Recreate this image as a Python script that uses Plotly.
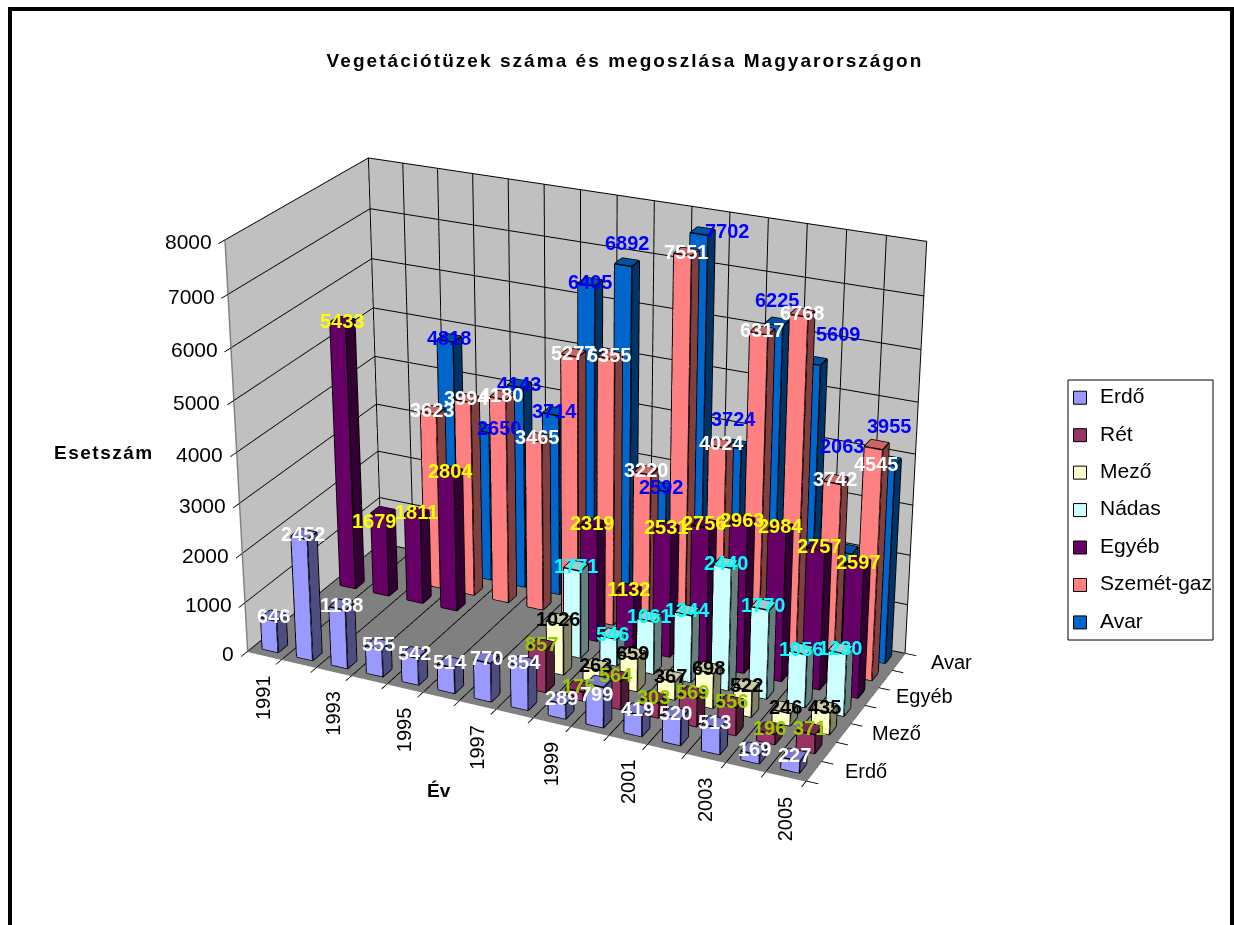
import plotly.graph_objects as go

years = list(range(1991, 2006))
series_names = ["Erdő", "Rét", "Mező", "Nádas", "Egyéb", "Szemét-gaz", "Avar"]
_ = None
erdo   = [646, 2452, 1188, 555, 542, 514, 770, 854, 289, 799, 419, 520, 513, 169, 227]
ret    = [_, _, _, _, _, _, _, 857, 175, 564, 303, 569, 556, 196, 371]
mezo   = [_, _, _, _, _, _, _, 1026, 263, 659, 367, 698, 522, 246, 435]
nadas  = [_, _, _, _, _, _, _, 1771, 546, 1061, 1344, 2440, 1770, 1056, 1230]
egyeb  = [5433, 1679, 1811, 2804, _, _, _, 2319, 1132, 2531, 2756, 2963, 2984, 2757, 2597]
szemet = [_, _, 3623, 3994, 4180, 3465, 5277, 5355, 3220, 7551, 4024, 6317, 6768, 3742, 4545]
avar   = [_, _, 4818, 3100, 4143, 3714, 6405, 6892, 2592, 7702, 3724, 6225, 5609, 2063, 3955]
all_series = [erdo, ret, mezo, nadas, egyeb, szemet, avar]
z_ticks = list(range(0, 9000, 1000))

# printed label differs from the drawn bar height in the source picture
label_text = {(5, 1998): "6355", (6, 1994): "2650"}
# labels that the source chart moved away from their bar top: (right px, up px)
label_shift = {(6, 1994): (14, 0), (6, 1998): (0, 19), (6, 2000): (25, 0), (6, 2001): (-2, 25),
               (6, 2002): (0, 22), (6, 2003): (24, 27), (6, 2004): (-4, 103), (6, 2005): (0, 34),
               (5, 2005): (0, -19), (4, 1992): (-8, -10), (0, 2000): (-2, -13)}

front_colors = ["#9999FF", "#993366", "#FFFFCC", "#CCFFFF", "#660066", "#FF8080", "#0066CC"]
side_colors  = ["#4D4D80", "#4D1A33", "#808066", "#668080", "#330033", "#804040", "#003366"]
top_colors   = ["#7A7ACC", "#7A2952", "#CCCCA3", "#A3CCCC", "#520052", "#CC6666", "#0052A3"]
label_colors = ["#FFFFFF", "#99CC00", "#000000", "#00FFFF", "#FFFF00", "#FFFFFF", "#0000FF"]

BAR = 0.46
W = 1234
Hs = 2316          # tall paper: plotly's fixed 45 degree lens needs it for this weak perspective
T = 703            # paper pixels hidden above the window
DOM_X = 1168 / W
eye = (2.4296, -5.1385, 2.5161)
center = (0.0206, -0.0013, 0)
asp = (1.3707, 0.6319, 1.0)


def py(v):
    return 1 - (v + T) / Hs


fig = go.Figure()
for s, (name, vals) in enumerate(zip(series_names, all_series)):
    xs, ys, zs, I, J, K, fc = [], [], [], [], [], [], []
    ex, ey, ez = [], [], []
    for yr, v in zip(years, vals):
        if v is None:
            continue
        x0, x1 = yr - BAR / 2, yr + BAR / 2
        y0, y1 = s - BAR / 2, s + BAR / 2
        faces = [([(x0, y0, 0), (x1, y0, 0), (x1, y0, v), (x0, y0, v)], front_colors[s]),
                 ([(x1, y0, 0), (x1, y1, 0), (x1, y1, v), (x1, y0, v)], side_colors[s]),
                 ([(x0, y0, v), (x1, y0, v), (x1, y1, v), (x0, y1, v)], top_colors[s])]
        for quad, col in faces:
            n = len(xs)
            for q in quad:
                xs.append(q[0]); ys.append(q[1]); zs.append(q[2])
            I += [n, n]; J += [n + 1, n + 2]; K += [n + 2, n + 3]; fc += [col, col]
            for a_, b_ in [(0, 1), (1, 2), (2, 3), (3, 0)]:
                ex += [quad[a_][0], quad[b_][0], None]
                ey += [quad[a_][1], quad[b_][1], None]
                ez += [quad[a_][2], quad[b_][2], None]
    fig.add_trace(go.Mesh3d(x=xs, y=ys, z=zs, i=I, j=J, k=K, facecolor=fc, flatshading=True,
                            lighting=dict(ambient=1, diffuse=0, specular=0, fresnel=0, roughness=1),
                            hoverinfo="skip", showlegend=False, name=name))
    fig.add_trace(go.Scatter3d(x=ex, y=ey, z=ez, mode="lines", line=dict(color="black", width=3),
                               hoverinfo="skip", showlegend=False))
    fig.add_trace(go.Scatter3d(x=[None], y=[None], z=[None], mode="markers",
                               name='<span style="font-size:21px;baseline-shift:5px">%s</span>' % name,
                               marker=dict(symbol="square", size=13, color=front_colors[s],
                                           line=dict(color="black", width=1))))

annots = []
for s in range(6, -1, -1):
    for yr, v in zip(years, all_series[s]):
        if v is None:
            continue
        dx, dy = label_shift.get((s, yr), (0, 0))
        annots.append(dict(x=yr, y=s, z=v, text=label_text.get((s, yr), str(v)), showarrow=False,
                           xshift=dx, yshift=dy,
                           font=dict(family="Arial", size=20, color=label_colors[s], weight="bold"),
                           xanchor="center", yanchor="middle"))
for yr in years[::2]:
    annots.append(dict(x=yr, y=-0.5, z=0, text=str(yr), textangle=-90, showarrow=False, yshift=-42, xshift=-1,
                       font=dict(family="Arial", size=20, color="black")))
for s in [0, 2, 4, 6]:
    annots.append(dict(x=2005.49, y=s, z=0, text=series_names[s], showarrow=False, xshift=53, yshift=0,
                       font=dict(family="Arial", size=20, color="black")))
for z in z_ticks:
    annots.append(dict(x=1990.51, y=-0.49, z=z, text=str(z), showarrow=False, xanchor="right", xshift=-12, yshift=-2,
                       font=dict(family="Arial", size=21, color="black")))

axis_common = dict(showbackground=True, showline=True, linecolor="#808080", linewidth=3,
                   zeroline=False, showspikes=False, title="", tickcolor="black", tickwidth=2)
fig.update_layout(
    width=W, height=Hs, margin=dict(l=0, r=0, t=0, b=0), paper_bgcolor="white",
    title=dict(text='<span style="letter-spacing:2.05px">Vegetációtüzek száma és megoszlása Magyarországon</span>',
               x=625 / W, y=py(60), xanchor="center", yanchor="middle",
               font=dict(family="Arial", size=19, color="black", weight="bold")),
    scene=dict(
        domain=dict(x=[0, DOM_X], y=[0, 1]),
        aspectmode="manual", aspectratio=dict(x=asp[0], y=asp[1], z=asp[2]),
        camera=dict(eye=dict(x=eye[0], y=eye[1], z=eye[2]), center=dict(x=center[0], y=center[1], z=center[2]),
                    up=dict(x=0, y=0, z=1), projection=dict(type="perspective")),
        xaxis=dict(axis_common, range=[1990.5, 2005.5], tickvals=[y - 0.5 for y in years] + [2005.5],
                   ticktext=[""] * 16, ticks="outside", ticklen=10, showgrid=True, gridcolor="black", gridwidth=2,
                   backgroundcolor="#C0C0C0"),
        yaxis=dict(axis_common, range=[-0.5, 6.5], tickvals=[i - 0.5 for i in range(8)],
                   ticktext=[""] * 8, ticks="outside", ticklen=10, showgrid=False, backgroundcolor="#C0C0C0"),
        zaxis=dict(axis_common, range=[0, 8000], tickvals=z_ticks, ticktext=[""] * 9, showgrid=True,
                   gridcolor="black", gridwidth=2, ticks="outside", ticklen=10, backgroundcolor="#808080"),
        annotations=annots,
    ),
    legend=dict(x=1060 / W, y=py(374), xanchor="left", yanchor="top", borderwidth=0,
                bgcolor="rgba(0,0,0,0)", font=dict(family="Arial", size=26.5, color="black"), itemclick=False,
                entrywidth=113, entrywidthmode="pixels"),
    shapes=[dict(type="path", xref="paper", yref="paper",
                 path="M %.5f %.5f L %.5f %.5f L %.5f %.5f L %.5f %.5f" % (10 / W, py(1000), 10 / W, py(9), 1232 / W, py(9), 1232 / W, py(1000)),
                 line=dict(color="black", width=4)),
            dict(type="rect", xref="paper", yref="paper", x0=1068 / W, x1=1213 / W, y0=py(640), y1=py(380),
                 line=dict(color="black", width=1))],
    annotations=[
        dict(text='<span style="letter-spacing:1.5px"><b>Esetszám</b></span>', x=104 / W, y=py(452), xref="paper", yref="paper",
             showarrow=False, xanchor="center", font=dict(family="Arial", size=19, color="black")),
        dict(text="<b>Év</b>", x=439 / W, y=py(790), xref="paper", yref="paper", showarrow=False,
             xanchor="center", font=dict(family="Arial", size=19, color="black")),
    ],
)
fig.write_html("out.html", config=dict(displayModeBar=False),
               post_script="document.body.style.margin='-%dpx 0 0 0';document.body.style.overflow='hidden';document.documentElement.style.overflow='hidden';" % T)
